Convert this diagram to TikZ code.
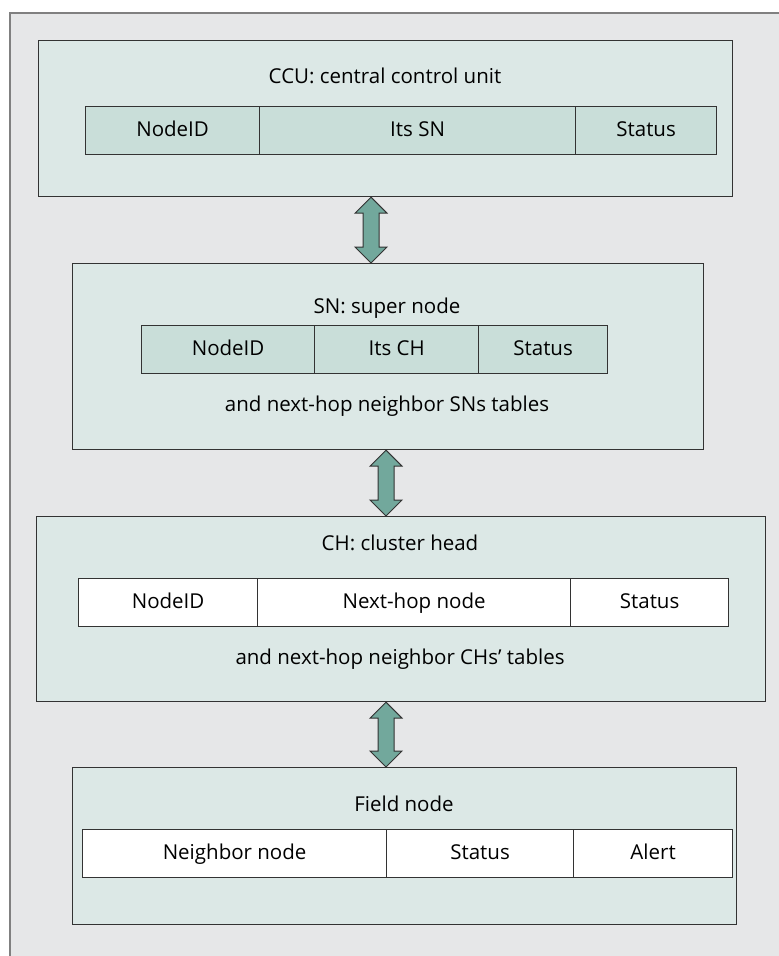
\documentclass[tikz,border=0pt]{standalone}
\usepackage{fontspec}
\setmainfont{Open Sans}
\usetikzlibrary{calc}

\definecolor{pagegray}{HTML}{E6E7E8}
\definecolor{framegray}{HTML}{808080}
\definecolor{boxfill}{HTML}{DCE8E6}
\definecolor{cellfill}{HTML}{C9DED9}
\definecolor{arrowfill}{HTML}{72A89C}
\definecolor{edge}{HTML}{333333}

\begin{document}
\begin{tikzpicture}[x=1pt,y=-1pt,
  every node/.style={font=\fontsize{20.5}{24}\selectfont, text=black},
  layer/.style={draw=edge, line width=1.2pt, fill=boxfill, anchor=north west,
    inner sep=0pt, minimum height=#1},
  cellbox/.style={draw=edge, line width=1.2pt, anchor=north west, inner sep=0pt,
    minimum height=48pt, minimum width=#1, text height=16pt, text depth=3.5pt},
  shaded/.style={fill=cellfill},
  plain/.style={fill=white},
  label/.style={anchor=center, inner sep=0pt, text height=16pt, text depth=3.5pt},
  dblarrow/.style={draw=edge, line width=1pt, fill=arrowfill, line join=miter}
]
% canvas and open frame
\useasboundingbox (0,0) rectangle (779,956);
\fill[pagegray] (10,13) rectangle (779,956);
\draw[framegray, line width=1.5pt] (10,956) -- (10,13) -- (779,13);

% CCU layer
\node[layer=156pt, minimum width=694pt] (ccu) at (38,40) {};
\node[label] (ccut) at (385,77) {CCU: central control unit};
\node[cellbox=174pt, shaded] (ccu1) at (85,106) {NodeID};
\node[cellbox=316pt, shaded] (ccu2) at (259,106) {Its SN};
\node[cellbox=141pt, shaded] (ccu3) at (575,106) {Status};

% SN layer
\node[layer=186pt, minimum width=631pt] (sn) at (72,263) {};
\node[label] (snt) at (387,307) {SN: super node};
\node[cellbox=173pt, shaded] (sn1) at (141,325) {NodeID};
\node[cellbox=164pt, shaded] (sn2) at (314,325) {Its CH};
\node[cellbox=129pt, shaded] (sn3) at (478,325) {Status};
\node[label] (snb) at (387,405) {and next-hop neighbor SNs tables};

% CH layer
\node[layer=185pt, minimum width=729pt] (ch) at (36,516) {};
\node[label] (cht) at (400,544) {CH: cluster head};
\node[cellbox=179pt, plain] (ch1) at (78,578) {NodeID};
\node[cellbox=313pt, plain] (ch2) at (257,578) {Next-hop node};
\node[cellbox=158pt, plain] (ch3) at (570,578) {Status};
\node[label] (chb) at (400,658) {and next-hop neighbor CHs’ tables};

% field node layer
\node[layer=157pt, minimum width=664pt] (fn) at (72,767) {};
\node[label] (fnt) at (404,805) {Field node};
\node[cellbox=304pt, plain] (fn1) at (82,829) {Neighbor node};
\node[cellbox=187pt, plain] (fn2) at (386,829) {Status};
\node[cellbox=159pt, plain] (fn3) at (573,829) {Alert};

% two-way links between layers
\coordinate (a1t) at (ccu.south -| 371,0);
\coordinate (a1b) at (sn.north -| 371,0);
\coordinate (a2t) at (sn.south -| 386,0);
\coordinate (a2b) at (ch.north -| 386,0);
\coordinate (a3t) at (ch.south -| 386,0);
\coordinate (a3b) at (fn.north -| 386,0);
\foreach \t/\b in {a1t/a1b, a2t/a2b, a3t/a3b}{
  \draw[dblarrow] let \p1=(\t), \p2=(\b) in
    (\x1,\y1) -- (\x1+16pt,\y1-16pt) -- (\x1+8pt,\y1-16pt) --
    (\x1+8pt,\y2+16pt) -- (\x1+16pt,\y2+16pt) -- (\x1,\y2) --
    (\x1-16pt,\y2+16pt) -- (\x1-8pt,\y2+16pt) -- (\x1-8pt,\y1-16pt) --
    (\x1-16pt,\y1-16pt) -- cycle;
}
\end{tikzpicture}
\end{document}
